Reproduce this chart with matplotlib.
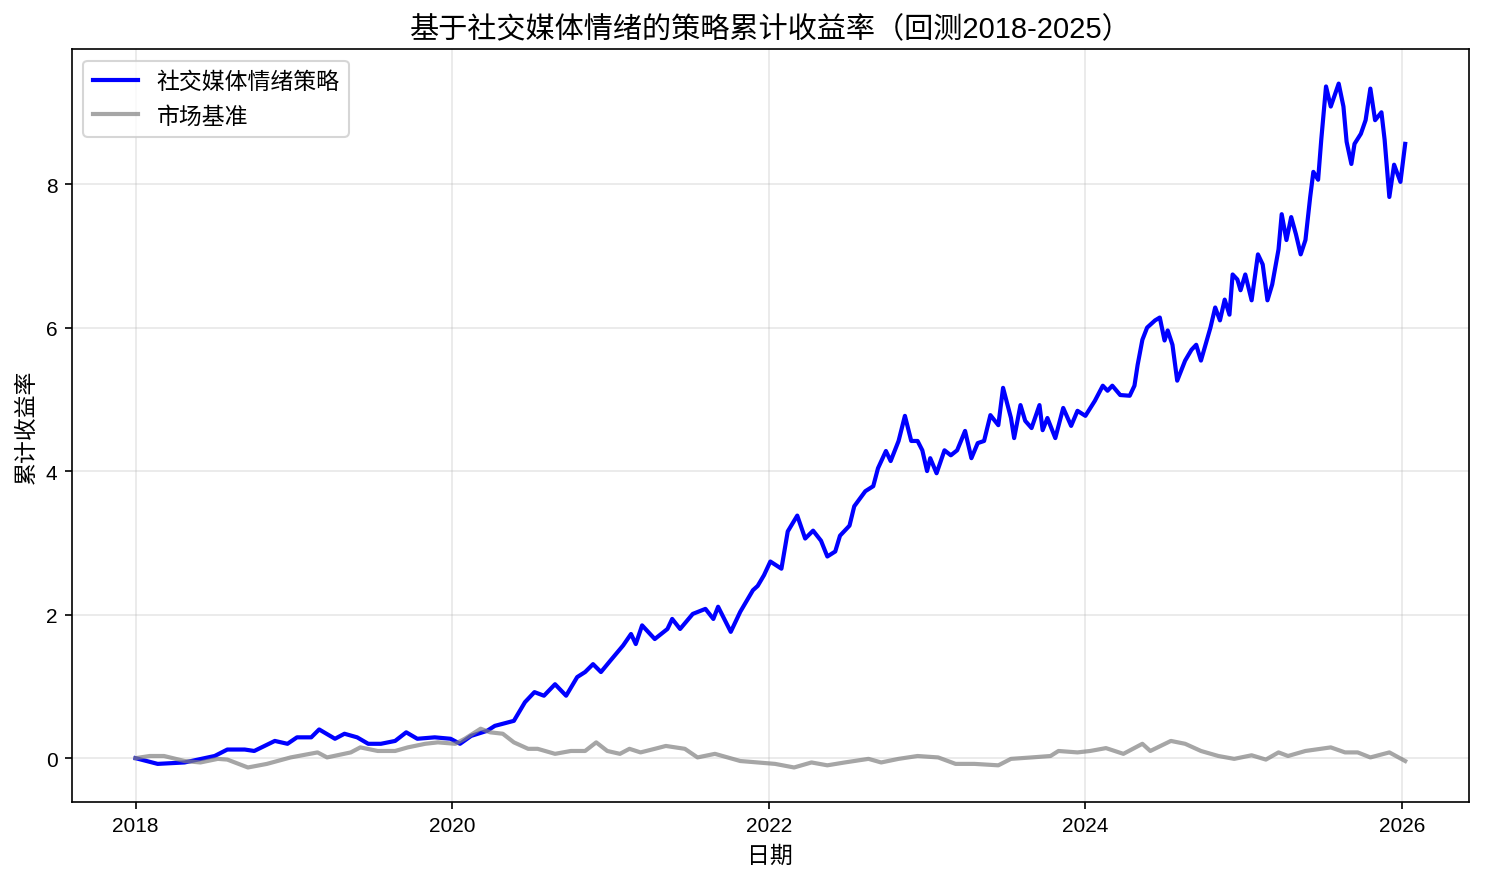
import numpy as np
import pandas as pd
import matplotlib
matplotlib.use("Agg")
import matplotlib.pyplot as plt
import matplotlib.dates as mdates

plt.rcParams['font.family'] = ['Liberation Sans', 'Noto Sans CJK SC', 'DejaVu Sans']
plt.rcParams['axes.unicode_minus'] = False

# decimal years + cumulative return
strategy_t = [
    2018.00, 2018.14, 2018.31, 2018.50, 2018.58, 2018.69, 2018.75, 2018.88, 2018.96, 2019.02,
    2019.11, 2019.16, 2019.26, 2019.32, 2019.40, 2019.47, 2019.55, 2019.64, 2019.71, 2019.78,
    2019.89, 2019.99, 2020.05, 2020.12, 2020.22, 2020.27, 2020.39, 2020.46, 2020.52, 2020.58,
    2020.65, 2020.72, 2020.79, 2020.84, 2020.89, 2020.94, 2021.00, 2021.08, 2021.13, 2021.16,
    2021.20, 2021.28, 2021.36, 2021.39, 2021.44, 2021.52, 2021.60, 2021.65, 2021.68, 2021.76,
    2021.82, 2021.90, 2021.93, 2021.97, 2022.01, 2022.08, 2022.12, 2022.18, 2022.23, 2022.28,
    2022.33, 2022.37, 2022.42, 2022.45, 2022.51, 2022.54, 2022.61, 2022.66, 2022.69, 2022.74,
    2022.77, 2022.82, 2022.86, 2022.90, 2022.94, 2022.97, 2023.00, 2023.02, 2023.06, 2023.11,
    2023.15, 2023.19, 2023.24, 2023.28, 2023.32, 2023.36, 2023.40, 2023.45, 2023.48, 2023.53,
    2023.55, 2023.59, 2023.62, 2023.66, 2023.71, 2023.73, 2023.76, 2023.81, 2023.86, 2023.91,
    2023.95, 2024.00, 2024.06, 2024.11, 2024.14, 2024.17, 2024.22, 2024.28, 2024.31, 2024.33,
    2024.36, 2024.39, 2024.44, 2024.47, 2024.50, 2024.52, 2024.55, 2024.58, 2024.63, 2024.67,
    2024.70, 2024.73, 2024.79, 2024.82, 2024.85, 2024.88, 2024.91, 2024.93, 2024.96, 2024.98,
    2025.01, 2025.05, 2025.09, 2025.12, 2025.15, 2025.18, 2025.22, 2025.24, 2025.27, 2025.30,
    2025.33, 2025.36, 2025.39, 2025.42, 2025.44, 2025.47, 2025.49, 2025.52, 2025.55, 2025.60,
    2025.63, 2025.65, 2025.68, 2025.70, 2025.74, 2025.77, 2025.80, 2025.83, 2025.87, 2025.89,
    2025.92, 2025.95, 2025.99, 2026.02,
]
strategy_ret = [
    0.00, -0.08, -0.06, 0.03, 0.12, 0.12, 0.10, 0.24, 0.20, 0.29,
    0.29, 0.40, 0.27, 0.34, 0.29, 0.20, 0.20, 0.24, 0.36, 0.27,
    0.29, 0.27, 0.20, 0.31, 0.38, 0.45, 0.52, 0.78, 0.92, 0.87,
    1.03, 0.87, 1.13, 1.20, 1.31, 1.20, 1.36, 1.57, 1.73, 1.59,
    1.85, 1.66, 1.80, 1.94, 1.80, 2.01, 2.08, 1.94, 2.11, 1.76,
    2.04, 2.34, 2.40, 2.55, 2.74, 2.64, 3.16, 3.38, 3.06, 3.17,
    3.03, 2.81, 2.88, 3.10, 3.24, 3.51, 3.72, 3.79, 4.04, 4.28,
    4.14, 4.42, 4.77, 4.42, 4.42, 4.29, 4.00, 4.18, 3.97, 4.29,
    4.22, 4.29, 4.56, 4.18, 4.39, 4.42, 4.78, 4.64, 5.16, 4.74,
    4.46, 4.92, 4.70, 4.60, 4.92, 4.57, 4.74, 4.46, 4.88, 4.63,
    4.84, 4.77, 4.98, 5.19, 5.12, 5.19, 5.06, 5.05, 5.19, 5.48,
    5.83, 6.00, 6.10, 6.14, 5.82, 5.96, 5.76, 5.26, 5.54, 5.69,
    5.76, 5.54, 6.00, 6.28, 6.10, 6.39, 6.18, 6.74, 6.67, 6.52,
    6.74, 6.38, 7.02, 6.88, 6.38, 6.60, 7.09, 7.58, 7.22, 7.54,
    7.30, 7.02, 7.22, 7.82, 8.17, 8.06, 8.62, 9.36, 9.08, 9.40,
    9.08, 8.59, 8.28, 8.56, 8.70, 8.89, 9.33, 8.89, 9.00, 8.62,
    7.82, 8.27, 8.03, 8.56,
]

market_t = [
    2018.00, 2018.09, 2018.18, 2018.31, 2018.41, 2018.52, 2018.58, 2018.71, 2018.83, 2018.98,
    2019.15, 2019.21, 2019.36, 2019.42, 2019.53, 2019.64, 2019.72, 2019.83, 2019.91, 2020.02,
    2020.08, 2020.18, 2020.24, 2020.32, 2020.39, 2020.48, 2020.54, 2020.65, 2020.75, 2020.84,
    2020.91, 2020.98, 2021.06, 2021.12, 2021.19, 2021.28, 2021.35, 2021.47, 2021.55, 2021.66,
    2021.74, 2021.82, 2021.93, 2022.04, 2022.16, 2022.27, 2022.37, 2022.48, 2022.63, 2022.71,
    2022.82, 2022.94, 2023.07, 2023.18, 2023.30, 2023.45, 2023.53, 2023.66, 2023.78, 2023.83,
    2023.95, 2024.03, 2024.13, 2024.24, 2024.36, 2024.41, 2024.54, 2024.63, 2024.73, 2024.84,
    2024.94, 2025.05, 2025.14, 2025.22, 2025.28, 2025.39, 2025.55, 2025.64, 2025.72, 2025.80,
    2025.92, 2026.02,
]
market_ret = [
    0.00, 0.03, 0.03, -0.04, -0.06, -0.01, -0.02, -0.13, -0.08, 0.01,
    0.08, 0.01, 0.08, 0.15, 0.10, 0.10, 0.15, 0.20, 0.22, 0.20,
    0.27, 0.41, 0.36, 0.34, 0.22, 0.13, 0.13, 0.06, 0.10, 0.10,
    0.22, 0.10, 0.06, 0.13, 0.08, 0.13, 0.17, 0.13, 0.01, 0.06,
    0.01, -0.04, -0.06, -0.08, -0.13, -0.06, -0.10, -0.06, -0.01, -0.06,
    -0.01, 0.03, 0.01, -0.08, -0.08, -0.10, -0.01, 0.01, 0.03, 0.10,
    0.08, 0.10, 0.14, 0.06, 0.20, 0.10, 0.24, 0.20, 0.10, 0.03,
    -0.01, 0.04, -0.02, 0.08, 0.03, 0.10, 0.15, 0.08, 0.08, 0.01,
    0.08, -0.04,
]


def to_dates(years):
    start = pd.Timestamp("2018-01-01")
    return start + pd.to_timedelta((np.array(years) - 2018.0) * 365.25, unit="D")


def main():
    # 1485x884 px at 150 dpi
    fig, ax = plt.subplots(figsize=(9.9, 5.8933), dpi=150)
    fig.subplots_adjust(left=0.0485, right=0.989, top=0.943, bottom=0.092)

    ax.plot(to_dates(strategy_t), strategy_ret, color="blue", linewidth=2, label="社交媒体情绪策略")
    ax.plot(to_dates(market_t), market_ret, color="gray", alpha=0.7, linewidth=2, label="市场基准")

    ax.set_title("基于社交媒体情绪的策略累计收益率（回测2018-2025）", fontsize=14)
    ax.set_xlabel("日期", fontsize=11)
    ax.set_ylabel("累计收益率", fontsize=11)
    ax.xaxis.set_major_locator(mdates.YearLocator(2))
    ax.xaxis.set_major_formatter(mdates.DateFormatter("%Y"))
    ax.grid(True, alpha=0.3)
    ax.legend(loc="upper left", fontsize=11)

    fig.savefig("out.png", dpi=150)


if __name__ == "__main__":
    main()
